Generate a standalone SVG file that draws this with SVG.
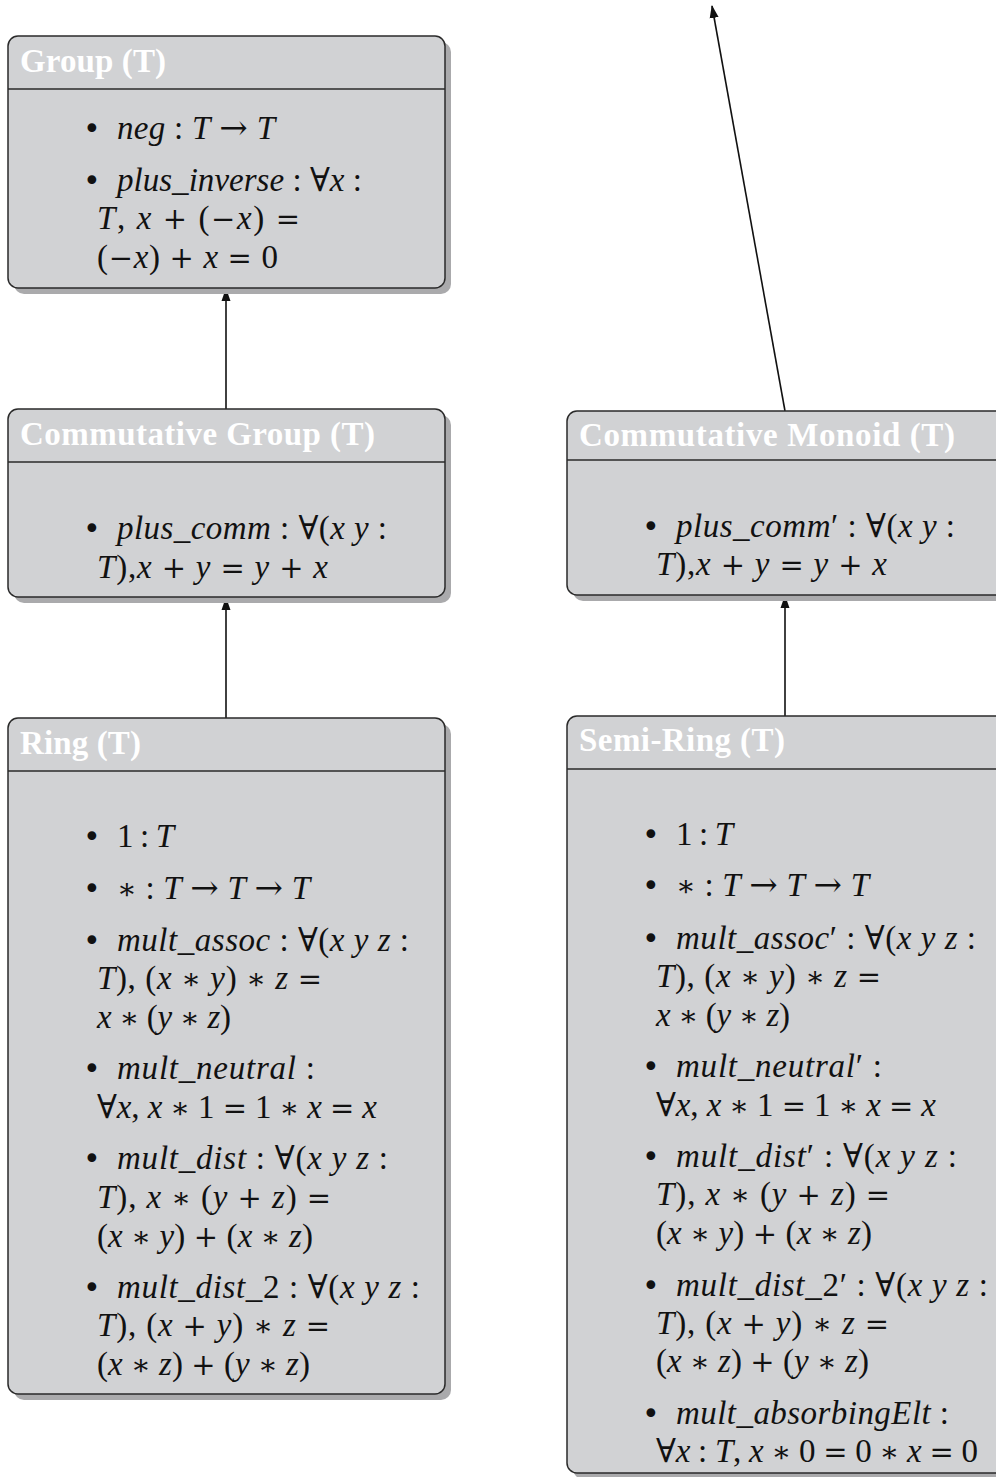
<svg xmlns="http://www.w3.org/2000/svg" width="996" height="1477" viewBox="0 0 996 1477">
<style>
.shadow{fill:#aaaaac;}
.box{fill:#d1d2d4;stroke:#2a2a2a;stroke-width:1.5;}
.sep{stroke:#2a2a2a;stroke-width:1.5;}
.hdr{font-family:"Liberation Serif","DejaVu Serif",serif;font-weight:bold;font-size:33px;fill:#ffffff;}
.t{font-family:"Liberation Serif","DejaVu Serif",serif;font-size:33px;fill:#111;}
.b{font-family:"DejaVu Sans",sans-serif;font-size:30px;fill:#111;}
.i{font-style:italic;}
.o{font-family:"DejaVu Serif",serif;font-size:29px;}
.a{font-family:"DejaVu Serif",serif;font-size:34px;}
.conn{stroke:#111;stroke-width:1.6;fill:none;}
</style>
<defs>
<marker id="ah" markerWidth="13" markerHeight="10" refX="12" refY="5" orient="auto" markerUnits="userSpaceOnUse">
<path d="M0,0.5 L13,5 L0,9.5 Z" fill="#111"/>
</marker>
</defs>

<g id="connectors">
<line class="conn" x1="226" y1="409" x2="226" y2="289" marker-end="url(#ah)"/>
<line class="conn" x1="226" y1="718" x2="226" y2="598" marker-end="url(#ah)"/>
<line class="conn" x1="785" y1="716" x2="785" y2="596" marker-end="url(#ah)"/>
<line class="conn" x1="785" y1="411" x2="712" y2="6" marker-end="url(#ah)"/>
</g>

<g id="group">
<rect class="shadow" x="14" y="42" width="437" height="252" rx="10"/>
<rect class="box" x="8" y="36" width="437" height="252" rx="10"/>
<line class="sep" x1="8" y1="89" x2="445" y2="89"/>
<text class="hdr" x="20" y="72" textLength="146">Group (T)</text>
<text class="b" x="83" y="139">•</text>
<text class="t" x="117" y="139" textLength="158"><tspan class="i">neg</tspan> : <tspan class="i">T</tspan> <tspan class="a">→</tspan> <tspan class="i">T</tspan></text>
<text class="b" x="83" y="191">•</text>
<text class="t" x="117" y="191" textLength="245"><tspan class="i">plus_inverse</tspan> : ∀<tspan class="i">x</tspan> :</text>
<text class="t" x="97" y="229" textLength="203"><tspan class="i">T</tspan>, <tspan class="i">x</tspan> <tspan class="o">+</tspan> (<tspan class="o">−</tspan><tspan class="i">x</tspan>) <tspan class="o">=</tspan></text>
<text class="t" x="97" y="268" textLength="181">(<tspan class="o">−</tspan><tspan class="i">x</tspan>) <tspan class="o">+</tspan> <tspan class="i">x</tspan> <tspan class="o">=</tspan> 0</text>
</g>

<g id="commutative-group">
<rect class="shadow" x="14" y="415" width="437" height="188" rx="10"/>
<rect class="box" x="8" y="409" width="437" height="188" rx="10"/>
<line class="sep" x1="8" y1="462" x2="445" y2="462"/>
<text class="hdr" x="20" y="445" textLength="355">Commutative Group (T)</text>
<text class="b" x="83" y="539">•</text>
<text class="t" x="117" y="539" textLength="270"><tspan class="i">plus_comm</tspan> : ∀(<tspan class="i">x</tspan> <tspan class="i">y</tspan> :</text>
<text class="t" x="97" y="578" textLength="231"><tspan class="i">T</tspan>),<tspan class="i">x</tspan> <tspan class="o">+</tspan> <tspan class="i">y</tspan> <tspan class="o">=</tspan> <tspan class="i">y</tspan> <tspan class="o">+</tspan> <tspan class="i">x</tspan></text>
</g>

<g id="ring">
<rect class="shadow" x="14" y="724" width="437" height="676" rx="10"/>
<rect class="box" x="8" y="718" width="437" height="676" rx="10"/>
<line class="sep" x1="8" y1="771" x2="445" y2="771"/>
<text class="hdr" x="20" y="754" textLength="121">Ring (T)</text>
<text class="b" x="83" y="847">•</text>
<text class="t" x="117" y="847" textLength="57">1 : <tspan class="i">T</tspan></text>
<text class="b" x="83" y="899">•</text>
<text class="t" x="117" y="899" textLength="193"><tspan class="o">∗</tspan> : <tspan class="i">T</tspan> <tspan class="a">→</tspan> <tspan class="i">T</tspan> <tspan class="a">→</tspan> <tspan class="i">T</tspan></text>
<text class="b" x="83" y="951">•</text>
<text class="t" x="117" y="951" textLength="292"><tspan class="i">mult_assoc</tspan> : ∀(<tspan class="i">x</tspan> <tspan class="i">y</tspan> <tspan class="i">z</tspan> :</text>
<text class="t" x="97" y="989" textLength="225"><tspan class="i">T</tspan>), (<tspan class="i">x</tspan> <tspan class="o">∗</tspan> <tspan class="i">y</tspan>) <tspan class="o">∗</tspan> <tspan class="i">z</tspan> <tspan class="o">=</tspan></text>
<text class="t" x="97" y="1028" textLength="134"><tspan class="i">x</tspan> <tspan class="o">∗</tspan> (<tspan class="i">y</tspan> <tspan class="o">∗</tspan> <tspan class="i">z</tspan>)</text>
<text class="b" x="83" y="1079">•</text>
<text class="t" x="117" y="1079" textLength="198"><tspan class="i">mult_neutral</tspan> :</text>
<text class="t" x="97" y="1118" textLength="280">∀<tspan class="i">x</tspan>, <tspan class="i">x</tspan> <tspan class="o">∗</tspan> 1 <tspan class="o">=</tspan> 1 <tspan class="o">∗</tspan> <tspan class="i">x</tspan> <tspan class="o">=</tspan> <tspan class="i">x</tspan></text>
<text class="b" x="83" y="1169">•</text>
<text class="t" x="117" y="1169" textLength="271"><tspan class="i">mult_dist</tspan> : ∀(<tspan class="i">x</tspan> <tspan class="i">y</tspan> <tspan class="i">z</tspan> :</text>
<text class="t" x="97" y="1208" textLength="234"><tspan class="i">T</tspan>), <tspan class="i">x</tspan> <tspan class="o">∗</tspan> (<tspan class="i">y</tspan> <tspan class="o">+</tspan> <tspan class="i">z</tspan>) <tspan class="o">=</tspan></text>
<text class="t" x="97" y="1247" textLength="216">(<tspan class="i">x</tspan> <tspan class="o">∗</tspan> <tspan class="i">y</tspan>) <tspan class="o">+</tspan> (<tspan class="i">x</tspan> <tspan class="o">∗</tspan> <tspan class="i">z</tspan>)</text>
<text class="b" x="83" y="1298">•</text>
<text class="t" x="117" y="1298" textLength="303"><tspan class="i">mult_dist_</tspan>2 : ∀(<tspan class="i">x</tspan> <tspan class="i">y</tspan> <tspan class="i">z</tspan> :</text>
<text class="t" x="97" y="1336" textLength="233"><tspan class="i">T</tspan>), (<tspan class="i">x</tspan> <tspan class="o">+</tspan> <tspan class="i">y</tspan>) <tspan class="o">∗</tspan> <tspan class="i">z</tspan> <tspan class="o">=</tspan></text>
<text class="t" x="97" y="1375" textLength="213">(<tspan class="i">x</tspan> <tspan class="o">∗</tspan> <tspan class="i">z</tspan>) <tspan class="o">+</tspan> (<tspan class="i">y</tspan> <tspan class="o">∗</tspan> <tspan class="i">z</tspan>)</text>
</g>

<g id="commutative-monoid">
<rect class="shadow" x="573" y="417" width="440" height="184" rx="10"/>
<rect class="box" x="567" y="411" width="440" height="184" rx="10"/>
<line class="sep" x1="567" y1="460" x2="1007" y2="460"/>
<text class="hdr" x="579" y="446" textLength="376">Commutative Monoid (T)</text>
<text class="b" x="642" y="537">•</text>
<text class="t" x="676" y="537" textLength="279"><tspan class="i">plus_comm</tspan>′ : ∀(<tspan class="i">x</tspan> <tspan class="i">y</tspan> :</text>
<text class="t" x="656" y="575" textLength="231"><tspan class="i">T</tspan>),<tspan class="i">x</tspan> <tspan class="o">+</tspan> <tspan class="i">y</tspan> <tspan class="o">=</tspan> <tspan class="i">y</tspan> <tspan class="o">+</tspan> <tspan class="i">x</tspan></text>
</g>

<g id="semi-ring">
<rect class="shadow" x="573" y="722" width="440" height="757" rx="10"/>
<rect class="box" x="567" y="716" width="440" height="757" rx="10"/>
<line class="sep" x1="567" y1="769" x2="1007" y2="769"/>
<text class="hdr" x="579" y="751" textLength="206">Semi-Ring (T)</text>
<text class="b" x="642" y="845">•</text>
<text class="t" x="676" y="845" textLength="57">1 : <tspan class="i">T</tspan></text>
<text class="b" x="642" y="896">•</text>
<text class="t" x="676" y="896" textLength="193"><tspan class="o">∗</tspan> : <tspan class="i">T</tspan> <tspan class="a">→</tspan> <tspan class="i">T</tspan> <tspan class="a">→</tspan> <tspan class="i">T</tspan></text>
<text class="b" x="642" y="949">•</text>
<text class="t" x="676" y="949" textLength="300"><tspan class="i">mult_assoc</tspan>′ : ∀(<tspan class="i">x</tspan> <tspan class="i">y</tspan> <tspan class="i">z</tspan> :</text>
<text class="t" x="656" y="987" textLength="225"><tspan class="i">T</tspan>), (<tspan class="i">x</tspan> <tspan class="o">∗</tspan> <tspan class="i">y</tspan>) <tspan class="o">∗</tspan> <tspan class="i">z</tspan> <tspan class="o">=</tspan></text>
<text class="t" x="656" y="1026" textLength="134"><tspan class="i">x</tspan> <tspan class="o">∗</tspan> (<tspan class="i">y</tspan> <tspan class="o">∗</tspan> <tspan class="i">z</tspan>)</text>
<text class="b" x="642" y="1077">•</text>
<text class="t" x="676" y="1077" textLength="206"><tspan class="i">mult_neutral</tspan>′ :</text>
<text class="t" x="656" y="1116" textLength="280">∀<tspan class="i">x</tspan>, <tspan class="i">x</tspan> <tspan class="o">∗</tspan> 1 <tspan class="o">=</tspan> 1 <tspan class="o">∗</tspan> <tspan class="i">x</tspan> <tspan class="o">=</tspan> <tspan class="i">x</tspan></text>
<text class="b" x="642" y="1167">•</text>
<text class="t" x="676" y="1167" textLength="281"><tspan class="i">mult_dist</tspan>′ : ∀(<tspan class="i">x</tspan> <tspan class="i">y</tspan> <tspan class="i">z</tspan> :</text>
<text class="t" x="656" y="1205" textLength="234"><tspan class="i">T</tspan>), <tspan class="i">x</tspan> <tspan class="o">∗</tspan> (<tspan class="i">y</tspan> <tspan class="o">+</tspan> <tspan class="i">z</tspan>) <tspan class="o">=</tspan></text>
<text class="t" x="656" y="1244" textLength="216">(<tspan class="i">x</tspan> <tspan class="o">∗</tspan> <tspan class="i">y</tspan>) <tspan class="o">+</tspan> (<tspan class="i">x</tspan> <tspan class="o">∗</tspan> <tspan class="i">z</tspan>)</text>
<text class="b" x="642" y="1296">•</text>
<text class="t" x="676" y="1296" textLength="312"><tspan class="i">mult_dist_</tspan>2′ : ∀(<tspan class="i">x</tspan> <tspan class="i">y</tspan> <tspan class="i">z</tspan> :</text>
<text class="t" x="656" y="1334" textLength="233"><tspan class="i">T</tspan>), (<tspan class="i">x</tspan> <tspan class="o">+</tspan> <tspan class="i">y</tspan>) <tspan class="o">∗</tspan> <tspan class="i">z</tspan> <tspan class="o">=</tspan></text>
<text class="t" x="656" y="1372" textLength="213">(<tspan class="i">x</tspan> <tspan class="o">∗</tspan> <tspan class="i">z</tspan>) <tspan class="o">+</tspan> (<tspan class="i">y</tspan> <tspan class="o">∗</tspan> <tspan class="i">z</tspan>)</text>
<text class="b" x="642" y="1424">•</text>
<text class="t" x="676" y="1424" textLength="273"><tspan class="i">mult_absorbingElt</tspan> :</text>
<text class="t" x="656" y="1462" textLength="322">∀<tspan class="i">x</tspan> : <tspan class="i">T</tspan>, <tspan class="i">x</tspan> <tspan class="o">∗</tspan> 0 <tspan class="o">=</tspan> 0 <tspan class="o">∗</tspan> <tspan class="i">x</tspan> <tspan class="o">=</tspan> 0</text>
</g>
</svg>
